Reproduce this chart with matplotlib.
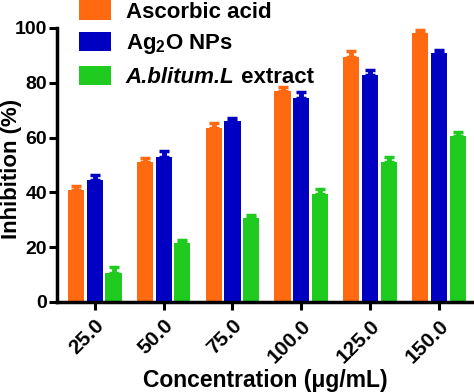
import numpy as np
import matplotlib.pyplot as plt
from matplotlib.patches import Patch

# --- DATA ---
concentrations = ['25.0', '50.0', '75.0', '100.0', '125.0', '150.0']
series_names = ['Ascorbic acid', 'Ag$_2$O NPs', 'A.blitum.L']
ascorbic = [41.0, 51.0, 63.5, 77.0, 89.5, 98.0]
ascorbic_err = [1.2, 1.5, 2.0, 1.3, 2.0, 1.3]
ag2o = [44.5, 53.0, 66.0, 74.5, 83.0, 91.0]
ag2o_err = [1.8, 2.0, 1.3, 2.0, 1.8, 1.0]
extract = [10.5, 21.5, 30.5, 39.5, 51.0, 60.5]
extract_err = [2.2, 1.2, 1.2, 1.8, 2.0, 1.5]

colors = ['#FF6A10', '#0000C2', '#1FCB1F']

plt.rcParams['font.family'] = ['Liberation Sans', 'DejaVu Sans']
plt.rcParams['font.weight'] = 'bold'
plt.rcParams['mathtext.fontset'] = 'custom'
plt.rcParams['mathtext.rm'] = 'Liberation Sans:bold'
plt.rcParams['mathtext.it'] = 'Liberation Sans:bold:italic'
plt.rcParams['mathtext.bf'] = 'Liberation Sans:bold'

fig = plt.figure(figsize=(4.74, 3.92), dpi=100)
ax = fig.add_axes([57 / 474, (392 - 302) / 392, 1 - 57 / 474, 274 / 392])

x = np.arange(len(concentrations))
width = 0.235
step = 0.272
all_vals = [ascorbic, ag2o, extract]
all_errs = [ascorbic_err, ag2o_err, extract_err]
for k, (vals, errs) in enumerate(zip(all_vals, all_errs)):
    pos = x + (k - 1) * step
    ax.bar(pos, vals, width, color=colors[k], zorder=2)
    ax.errorbar(pos, vals, yerr=[np.zeros(len(vals)), errs], fmt='none',
                ecolor=colors[k], elinewidth=3.5, capsize=3.5, capthick=2.5, zorder=3)

ax.set_xlim(-0.55, 5.51)
ax.set_ylim(0, 100)
ax.set_yticks([0, 20, 40, 60, 80, 100])
ax.set_xticks(x)
ax.set_xticklabels(concentrations, rotation=45, ha='right', rotation_mode='anchor')
ax.tick_params(axis='both', width=2.2, length=6, direction='out')
ax.tick_params(axis='y', labelsize=14, pad=1)
ax.tick_params(axis='x', labelsize=15, pad=4)
for lbl in ax.get_xticklabels() + ax.get_yticklabels():
    lbl.set_fontweight('bold')

for side in ['top', 'right']:
    ax.spines[side].set_visible(False)
for side in ['left', 'bottom']:
    ax.spines[side].set_linewidth(2.5)

# axis titles placed in figure coords so they stay inside the canvas
fig.text(12 / 474, (392 - 169) / 392, 'Inhibition (%)', rotation=90,
         ha='center', va='center', fontsize=16, fontweight='bold')
fig.text(265 / 474, (392 - 387) / 392, 'Concentration (\u03bcg/mL)',
         ha='center', va='baseline', fontsize=16.5, fontweight='bold')

handles = [Patch(facecolor=c) for c in colors]
leg = fig.legend(handles, series_names, loc='upper left', bbox_to_anchor=(0.125, 1.05),
                 frameon=False, handlelength=1.45, handleheight=0.95,
                 handletextpad=0.65, labelspacing=0.42, prop={'weight': 'bold', 'size': 16})

# third entry: italic species name followed by upright "extract"
species = leg.get_texts()[2]
species.set_fontstyle('italic')
fig.canvas.draw()
bb = species.get_window_extent().transformed(fig.transFigure.inverted())
sx, sy = species.get_transform().transform(species.get_position())
fig.text(bb.x1, fig.transFigure.inverted().transform((sx, sy))[1], ' extract',
         ha='left', va=species.get_va(), fontsize=16, fontweight='bold')

fig.savefig('out.png', dpi=100)
